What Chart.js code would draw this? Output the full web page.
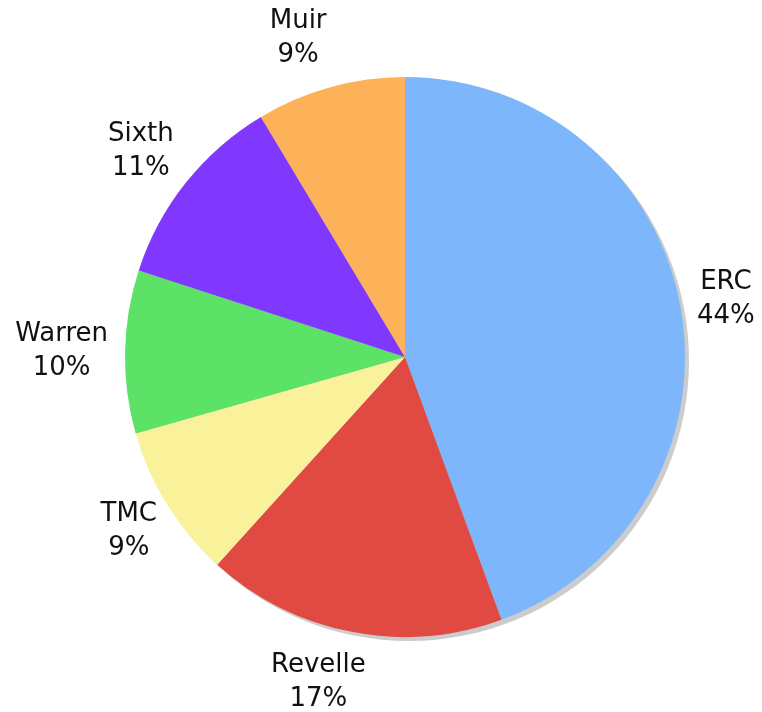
<!DOCTYPE html>
<html>
<head>
<meta charset="utf-8">
<script src="https://cdn.jsdelivr.net/npm/chart.js@4/dist/chart.umd.min.js"></script>
<style>
  html, body { margin: 0; padding: 0; background: #fff; }
  #wrap { width: 762px; height: 712px; }
</style>
</head>
<body>
<div id="wrap"><canvas id="pie"></canvas></div>
<script>
// College shares (clockwise from 12 o'clock)
const colleges = ['ERC', 'Revelle', 'TMC', 'Warren', 'Sixth', 'Muir'];
const shares = [44.4, 17.3, 8.9, 9.4, 11.4, 8.6];
const pctLabels = ['44%', '17%', '9%', '10%', '11%', '9%'];
const colors = ['#7db6fa', '#e14a42', '#faf29b', '#5ce266', '#8038ff', '#fdb159'];

// grey drop shadow under the whole pie
const shadowPlugin = {
  id: 'pieShadow',
  beforeDatasetsDraw(chart) {
    const arc = chart.getDatasetMeta(0).data[0];
    if (!arc) return;
    const ctx = chart.ctx;
    ctx.save();
    ctx.fillStyle = '#cccccc';
    ctx.beginPath();
    ctx.arc(arc.x + 4, arc.y + 4, arc.outerRadius, 0, Math.PI * 2);
    ctx.fill();
    ctx.restore();
  }
};

// two-line labels outside each slice
const outsideLabels = {
  id: 'outsideLabels',
  afterDatasetsDraw(chart, args, opts) {
    const ctx = chart.ctx;
    const lineH = 34;
    const nudge = opts.nudge || {};
    ctx.save();
    ctx.font = '26px "DejaVu Sans", Verdana, sans-serif';
    ctx.fillStyle = '#111';
    ctx.textAlign = 'center';
    ctx.textBaseline = 'middle';
    chart.getDatasetMeta(0).data.forEach((arc, i) => {
      const mid = (arc.startAngle + arc.endAngle) / 2;
      const dx = Math.cos(mid), dy = Math.sin(mid);
      const lines = [colleges[i], pctLabels[i]];
      const w = Math.max(...lines.map(t => ctx.measureText(t).width));
      const h = lines.length * lineH;
      const r = arc.outerRadius + 17;
      const cx = arc.x + dx * r + dx * w / 2 + (nudge[colleges[i]] || 0);
      const cy = arc.y + dy * r + dy * h / 2;
      lines.forEach((t, k) => {
        ctx.fillText(t, cx, cy + (k - (lines.length - 1) / 2) * lineH);
      });
    });
    ctx.restore();
  }
};

new Chart(document.getElementById('pie'), {
  type: 'pie',
  data: {
    labels: colleges,
    datasets: [{
      data: shares,
      backgroundColor: colors,
      borderWidth: 0,
      hoverOffset: 0
    }]
  },
  options: {
    responsive: true,
    maintainAspectRatio: false,
    animation: false,
    events: [],
    layout: { padding: { left: 125, right: 77, top: 77, bottom: 75 } },
    plugins: {
      legend: { display: false },
      tooltip: { enabled: false },
      outsideLabels: { nudge: { Revelle: -21, Muir: -20, Sixth: -6 } }
    }
  },
  plugins: [shadowPlugin, outsideLabels]
});
</script>
</body>
</html>
